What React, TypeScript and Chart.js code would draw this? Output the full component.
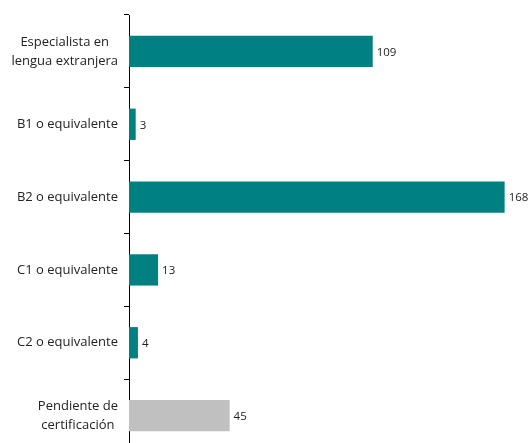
import React, { useEffect, useRef } from "react";
import { Chart, registerables } from "chart.js";

Chart.register(...registerables);

const categories: string[][] = [
  ["Especialista en", "lengua extranjera"],
  ["B1 o equivalente"],
  ["B2 o equivalente"],
  ["C1 o equivalente"],
  ["C2 o equivalente"],
  ["Pendiente de", "certificación"],
];
const values: number[] = [109, 3, 168, 13, 4, 45];
const barColors: string[] = ["#008080", "#008080", "#008080", "#008080", "#008080", "#C0C0C0"];
const xMax = 178;

const FONT = "'Open Sans', 'Noto Sans', sans-serif";

const labelPlugin = {
  id: "customLabels",
  afterDatasetsDraw(chart: any) {
    const ctx = chart.ctx;
    const yScale = chart.scales.y;
    const meta = chart.getDatasetMeta(0);
    ctx.save();
    // category labels
    ctx.font = `13px ${FONT}`;
    ctx.fillStyle = "#222222";
    ctx.textBaseline = "middle";
    ctx.textAlign = "center";
    const lineH = 19;
    categories.forEach((lines, i) => {
      const yc = yScale.getPixelForValue(i);
      const w = Math.max(...lines.map((l) => ctx.measureText(l).width));
      const right = chart.chartArea.left - 11;
      const cx = right - w / 2;
      const y0 = yc - ((lines.length - 1) * lineH) / 2;
      lines.forEach((l, j) => ctx.fillText(l, cx, y0 + j * lineH));
    });
    // value labels
    ctx.font = `11.5px ${FONT}`;
    ctx.textAlign = "left";
    meta.data.forEach((bar: any, i: number) => {
      ctx.fillText(String(values[i]), bar.x + 4, bar.y + 1);
    });
    ctx.restore();
  },
};

export default function App() {
  const ref = useRef<HTMLCanvasElement | null>(null);
  useEffect(() => {
    if (!ref.current) return;
    const chart = new Chart(ref.current, {
      type: "bar",
      data: {
        labels: categories.map((c) => c.join(" ")),
        datasets: [
          {
            data: values,
            backgroundColor: barColors,
            categoryPercentage: 1,
            barPercentage: 0.43,
          },
        ],
      },
      options: {
        indexAxis: "y",
        animation: false,
        responsive: true,
        maintainAspectRatio: false,
        layout: { padding: { top: 15, right: 3, left: 0, bottom: 0 } },
        plugins: { legend: { display: false }, tooltip: { enabled: false } },
        scales: {
          x: { display: false, min: 0, max: xMax },
          y: {
            afterFit: (s: any) => {
              s.width = 129;
            },
            border: { display: true, color: "#000000", width: 1 },
            grid: {
              drawOnChartArea: false,
              drawTicks: true,
              tickLength: 5,
              color: "#000000",
              offset: true,
            },
            ticks: { display: false },
          },
        },
      },
      plugins: [labelPlugin],
    });
    return () => chart.destroy();
  }, []);
  return (
    <div style={{ position: "fixed", left: 0, top: 0, width: 530, height: 452 }}>
      <canvas ref={ref} />
    </div>
  );
}
